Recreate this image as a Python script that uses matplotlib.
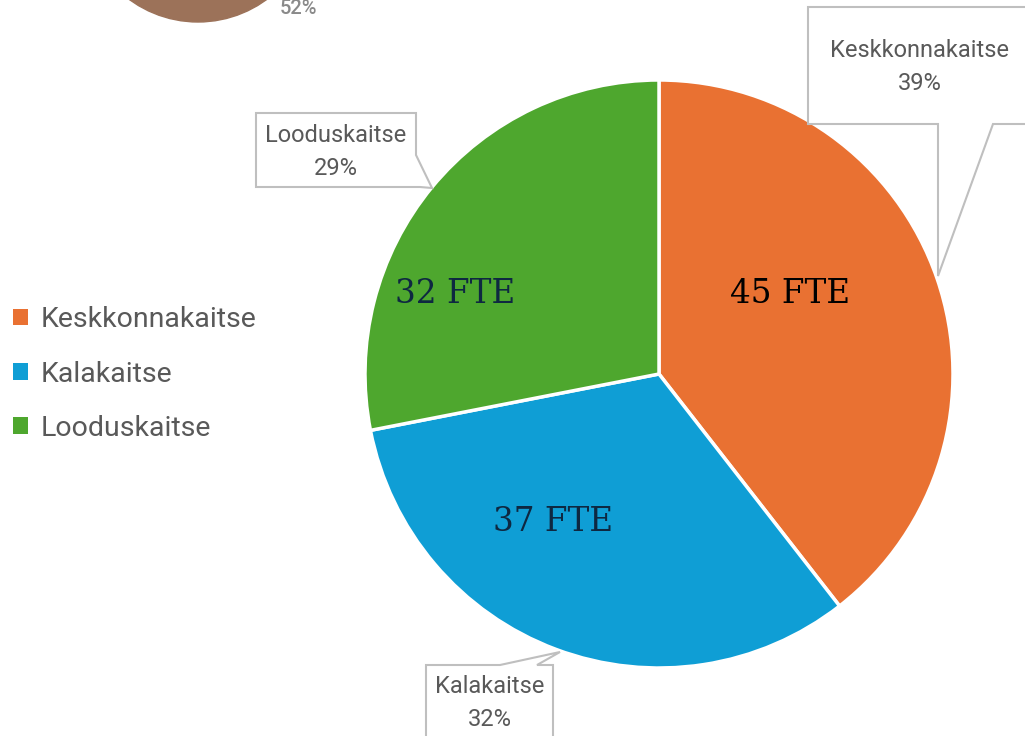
import matplotlib.pyplot as plt
from matplotlib.patches import Polygon, Circle

# andmed
categories = ['Keskkonnakaitse', 'Kalakaitse', 'Looduskaitse']
fte = [45, 37, 32]
shares = ['39%', '32%', '29%']
colors = ['#E97132', '#0F9ED5', '#4EA72E']

W, H = 1025, 736


def fy(py):
    # pikslid ülevalt -> andmekoordinaat alt
    return H - py


fig = plt.figure(figsize=(W / 100, H / 100), dpi=100)
ax = fig.add_axes([0, 0, 1, 1])
ax.set_xlim(0, W)
ax.set_ylim(0, H)
ax.set_aspect('equal')
ax.axis('off')

# jääk teisest diagrammist üleval vasakul
ax.add_patch(Circle((198, fy(-94)), 116, color='#9C7259', zorder=1))
ax.text(298, fy(9), '52%', ha='center', va='center', fontsize=14.5,
        color='#8A8A8A', fontfamily='Roboto', fontweight='medium', zorder=2)

wedges, _ = ax.pie(fte, colors=colors, startangle=90, counterclock=False,
                   center=(659, fy(374)), radius=294, frame=True,
                   wedgeprops=dict(edgecolor='white', linewidth=2.5))
ax.set_xlim(0, W)
ax.set_ylim(0, H)
ax.axis('off')

# FTE sildid lõikude sees
fte_pos = [(790, 294), (553, 522), (455, 294)]
fte_col = ['#000000', '#0E2841', '#0E2841']
for v, (px, py), c in zip(fte, fte_pos, fte_col):
    ax.text(px, fy(py), f'{v} FTE', ha='center', va='center', fontsize=23.5,
            fontfamily='DejaVu Serif', color=c, zorder=5)

# kõnemullid
boxes = [
    [(808, 7), (1030, 7), (1030, 124), (993, 124), (938, 276), (938, 124), (808, 124)],
    [(426, 665), (500, 665), (560, 652), (537, 665), (553, 665), (553, 740), (426, 740)],
    [(256, 113), (416, 113), (416, 155), (432, 188), (420, 187), (256, 187)],
]
text_pos = [(920, 67), (490, 703), (336, 152)]
for i, pts in enumerate(boxes):
    ax.add_patch(Polygon([(x, fy(y)) for x, y in pts], closed=True, facecolor='white',
                         edgecolor='#BFBFBF', linewidth=1.5, zorder=4))
    tx, ty = text_pos[i]
    ax.text(tx, fy(ty), f'{categories[i]}\n{shares[i]}', ha='center', va='center',
            fontsize=17, fontfamily='Roboto', color='#595959', linespacing=1.55, zorder=6)

# legend
leg = ax.legend(wedges, categories, loc='center left', bbox_to_anchor=(2 / W, 1 - 374 / H),
                frameon=False, handlelength=0.5, handleheight=0.5,
                handletextpad=0.45, labelspacing=0.95, borderaxespad=0,
                prop={'family': 'Roboto', 'size': 20.5})
for t in leg.get_texts():
    t.set_color('#595959')
for h in leg.legend_handles:
    h.set_linewidth(0)

fig.savefig('out.png', dpi=100)
